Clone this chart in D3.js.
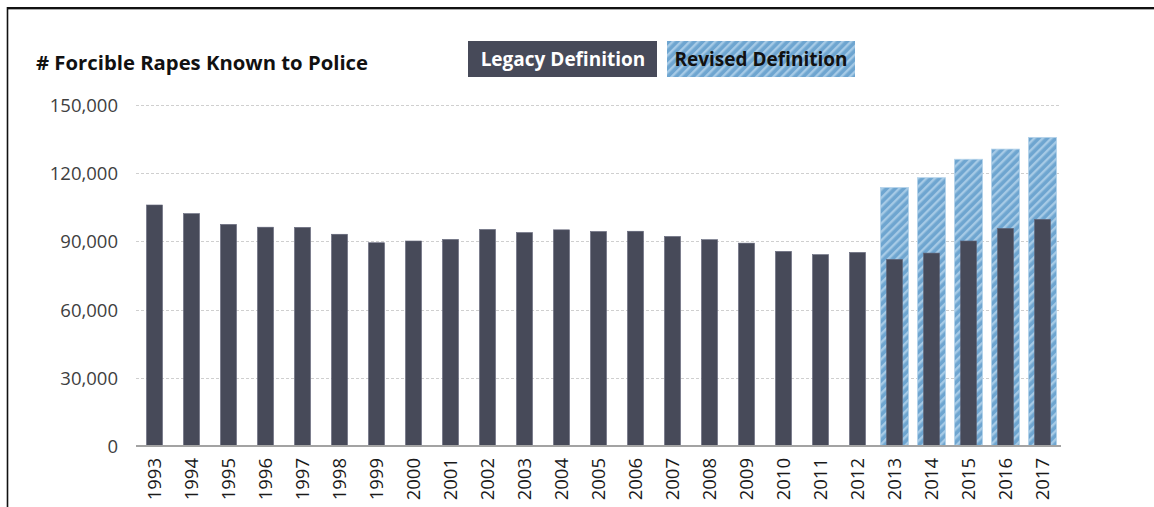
<!DOCTYPE html>
<html>
<head>
<meta charset="utf-8">
<script src="https://cdn.jsdelivr.net/npm/d3@7"></script>
<style>
  html, body { margin: 0; padding: 0; background: #fff; }
  svg { display: block; }
</style>
</head>
<body>
<svg id="chart" width="1154" height="507"></svg>
<script>
// ---- data ----
const years = ["1993","1994","1995","1996","1997","1998","1999","2000","2001","2002","2003","2004","2005","2006","2007","2008","2009","2010","2011","2012","2013","2014","2015","2016","2017"];
const legacyValues = [106014,102216,97470,96252,96153,93144,89411,90178,90863,95235,93883,95089,94347,94472,92160,90750,89241,85593,84175,85141,82109,84864,90185,95730,99708];
const revisedYears = ["2013","2014","2015","2016","2017"];
const revisedValues = [113695,118027,126134,130603,135755];
const yTicks = [0,30000,60000,90000,120000,150000];
const titleText = "# Forcible Rapes Known to Police";
const legendLabels = ["Legacy Definition","Revised Definition"];

(function(){
const svg = d3.select("#chart");
const W = 1154, H = 507;
const pLeft = 136, pRight = 1061, pTop = 105, pBottom = 446;

const x = d3.scaleBand().domain(years).range([pLeft, pRight]).paddingInner(0.24).paddingOuter(0.12);
const y = d3.scaleLinear().domain([0,150000]).range([pBottom, pTop]);

const defs = svg.append("defs");
const pat = defs.append("pattern")
  .attr("id","hatch").attr("patternUnits","userSpaceOnUse")
  .attr("width",6).attr("height",6)
  .attr("patternTransform","rotate(45)");
pat.append("rect").attr("width",6).attr("height",6).attr("fill","#6ea5d0");
pat.append("rect").attr("x",0).attr("width",2.4).attr("height",6).attr("fill","#a6cae6");

// frame
svg.append("line").attr("x1",7).attr("x2",W).attr("y1",8).attr("y2",8).attr("stroke","#111").attr("stroke-width",2);
svg.append("line").attr("x1",7).attr("x2",W).attr("y1",9.5).attr("y2",9.5).attr("stroke","#aaa").attr("stroke-width",1);
svg.append("line").attr("x1",7.5).attr("x2",7.5).attr("y1",7).attr("y2",H).attr("stroke","#111").attr("stroke-width",1.6);

// gridlines
svg.append("g").selectAll("line").data(yTicks.filter(d => d > 0)).join("line")
  .attr("x1", pLeft).attr("x2", pRight)
  .attr("y1", d => Math.round(y(d)) + 0.5).attr("y2", d => Math.round(y(d)) + 0.5)
  .attr("stroke","#cfcfcf").attr("stroke-width",1).attr("stroke-dasharray","3,2");

// y labels
const yAxis = d3.axisLeft(y).tickValues(yTicks).tickFormat(d3.format(",")).tickSize(0).tickPadding(0);
const ya = svg.append("g").attr("transform", `translate(118,0)`).call(yAxis);
ya.select(".domain").remove();
ya.selectAll("text").attr("font-family","'Open Sans', sans-serif").attr("font-size","18.5px").attr("fill","#404040").attr("dy","0.35em");

// revised bars
svg.append("g").selectAll("rect").data(revisedYears.map((yr,i) => ({yr, v: revisedValues[i]}))).join("rect")
  .attr("x", d => x(d.yr)).attr("width", x.bandwidth())
  .attr("y", d => y(d.v)).attr("height", d => pBottom - y(d.v))
  .attr("fill","url(#hatch)").attr("stroke","#b4d3ea").attr("stroke-width",0.8);

// legacy bars
const lw = 16;
svg.append("g").selectAll("rect").data(years.map((yr,i) => ({yr, v: legacyValues[i]}))).join("rect")
  .attr("x", d => x(d.yr) + x.bandwidth()/2 - lw/2).attr("width", lw)
  .attr("y", d => y(d.v)).attr("height", d => pBottom - y(d.v))
  .attr("fill","#474a59").attr("stroke","#63667a").attr("stroke-width",0.6);

// baseline
svg.append("line").attr("x1", pLeft).attr("x2", pRight).attr("y1", pBottom).attr("y2", pBottom)
  .attr("stroke","#a3a3a3").attr("stroke-width",2.2);

// x labels
const xAxis = d3.axisBottom(x).tickSize(0).tickPadding(0);
const xa = svg.append("g").attr("transform", `translate(0,${pBottom})`).call(xAxis);
xa.select(".domain").remove();
xa.selectAll("text")
  .attr("font-family","'Open Sans', sans-serif").attr("font-size","18.5px").attr("fill","#1a1a1a")
  .attr("text-anchor","end").attr("transform","rotate(-90)")
  .attr("x",-12).attr("y",0).attr("dy","0.36em");

// title
svg.append("text").attr("x",36).attr("y",70).text(titleText)
  .attr("font-family","'Open Sans', sans-serif").attr("font-weight","bold").attr("font-size","20.3px").attr("fill","#111");

// legend
svg.append("rect").attr("x",468).attr("y",41).attr("width",189).attr("height",36).attr("fill","#474a59");
svg.append("text").attr("x",563).attr("y",65.5).attr("text-anchor","middle").text(legendLabels[0])
  .attr("font-family","'Open Sans', sans-serif").attr("font-weight","bold").attr("font-size","19px").attr("fill","#fff");
svg.append("rect").attr("x",667).attr("y",41).attr("width",188).attr("height",36).attr("fill","url(#hatch)");
svg.append("text").attr("x",761).attr("y",65.5).attr("text-anchor","middle").text(legendLabels[1])
  .attr("font-family","'Open Sans', sans-serif").attr("font-weight","bold").attr("font-size","19px").attr("fill","#111");
})();
</script>
</body>
</html>
